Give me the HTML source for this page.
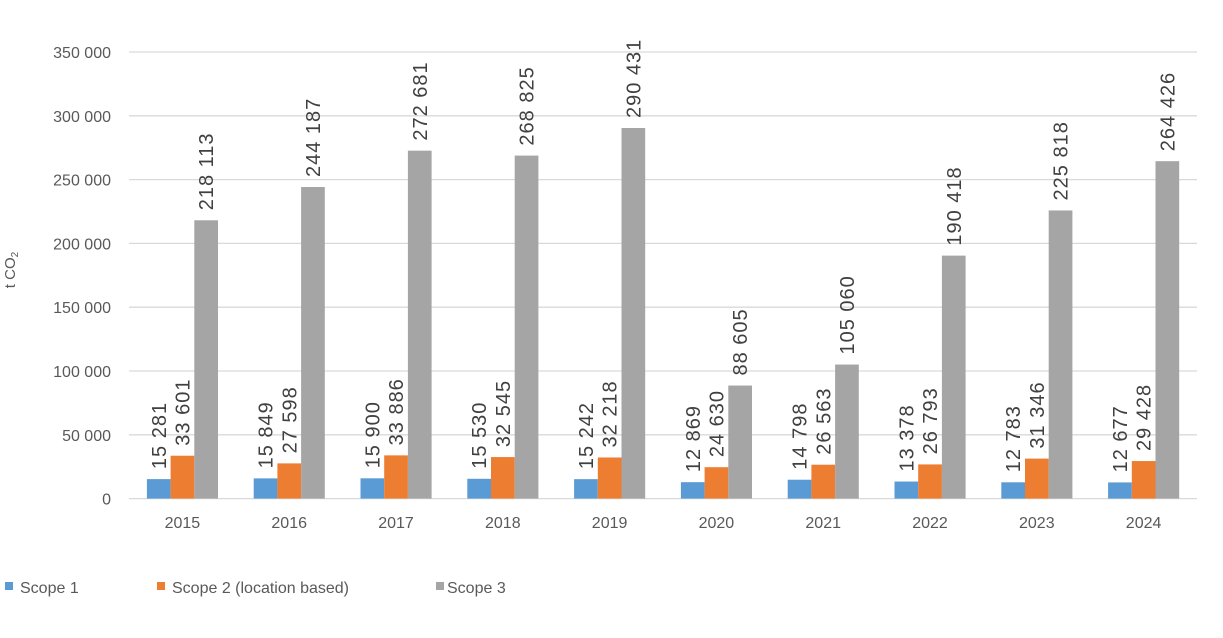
<!DOCTYPE html>
<html><head><meta charset="utf-8"><style>
html,body{margin:0;padding:0;background:#fff;}
svg{display:block;font-family:"Liberation Sans",sans-serif;}
</style></head><body>
<svg width="1223" height="638" viewBox="0 0 1223 638" xmlns="http://www.w3.org/2000/svg">
<g id="grid" stroke="#d9d9d9" stroke-width="1.3"></g>
<g id="ylab" fill="#595959" font-size="16" text-anchor="end"></g>
<g id="bars"></g>
<g id="vals" fill="#404040" font-size="20" letter-spacing="1"></g>
<g id="xlab" fill="#595959" font-size="16" text-anchor="middle"></g>
<text transform="translate(15,270) rotate(-90)" fill="#595959" font-size="15" text-anchor="middle">t CO<tspan font-size="10" dy="3">2</tspan></text>
<rect x="5" y="582" width="8" height="8" fill="#5B9BD5"/>
<text x="20" y="593" fill="#595959" font-size="16">Scope 1</text>
<rect x="157" y="582" width="8" height="8" fill="#ED7D31"/>
<text x="172" y="593" fill="#595959" font-size="16">Scope 2 (location based)</text>
<rect x="436" y="582" width="8" height="8" fill="#A5A5A5"/>
<text x="447" y="593" fill="#595959" font-size="16">Scope 3</text>
<script>
const ns="http://www.w3.org/2000/svg";
function el(p,t,a,txt){const e=document.createElementNS(ns,t);for(const k in a)e.setAttribute(k,a[k]);if(txt!==undefined)e.textContent=txt;document.getElementById(p).appendChild(e);}
const y0=498.6,k=63.8/50000;
for(let i=0;i<=7;i++){const y=y0-i*50000*k;
el("grid","line",{x1:129,x2:1197,y1:y,y2:y});
el("ylab","text",{x:111,y:y+6},i==0?"0":(i*50).toString()+" 000");}
const years=[2015,2016,2017,2018,2019,2020,2021,2022,2023,2024];
const d=[[15281,33601,218113],[15849,27598,244187],[15900,33886,272681],[15530,32545,268825],[15242,32218,290431],[12869,24630,88605],[14798,26563,105060],[13378,26793,190418],[12783,31346,225818],[12677,29428,264426]];
const cols=["#5B9BD5","#ED7D31","#A5A5A5"];
const fmt=v=>{const s=v.toString();return s.length>3?s.slice(0,s.length-3)+" "+s.slice(-3):s;};
years.forEach((yr,i)=>{const c=129+53.4+i*106.8;
el("xlab","text",{x:c,y:528},yr);
d[i].forEach((v,j)=>{const x=c-35.5+j*23.7;const h=v*k;
el("bars","rect",{x:x,y:y0-h,width:23.7,height:h,fill:cols[j]});
const tx=x+11.85+7, ty=y0-h-10;
el("vals","text",{transform:`translate(${tx},${ty}) rotate(-90)`},fmt(v));});});
</script>
</svg>
</body></html>
